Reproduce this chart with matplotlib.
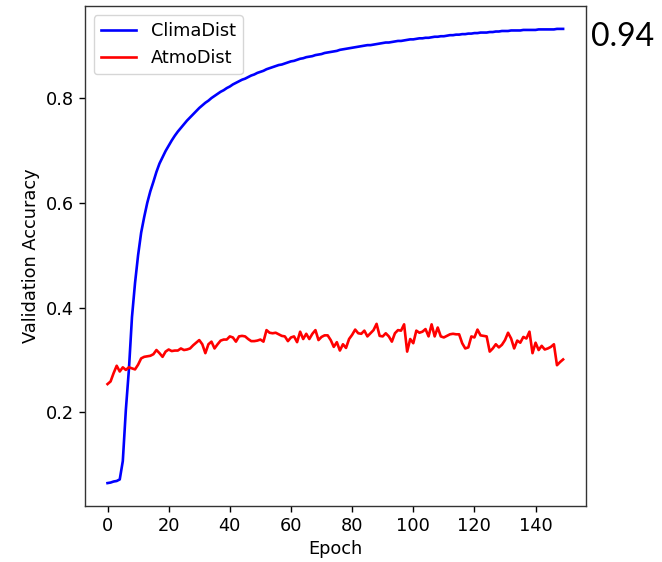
import numpy as np
import matplotlib
matplotlib.use('Agg')
import matplotlib.pyplot as plt

# validation accuracy per epoch
clima_acc = [
    0.065, 0.066, 0.068, 0.069, 0.072, 0.107, 0.205, 0.282, 0.382, 0.447,
    0.500, 0.543, 0.573, 0.600, 0.622, 0.640, 0.659, 0.675, 0.687, 0.699,
    0.709, 0.719, 0.728, 0.736, 0.743, 0.750, 0.757, 0.763, 0.769, 0.775,
    0.781, 0.786, 0.791, 0.795, 0.800, 0.804, 0.808, 0.812, 0.815, 0.819,
    0.822, 0.826, 0.829, 0.832, 0.835, 0.837, 0.840, 0.843, 0.845, 0.848,
    0.850, 0.852, 0.855, 0.857, 0.859, 0.861, 0.863, 0.864, 0.866, 0.868,
    0.870, 0.871, 0.873, 0.875, 0.876, 0.878, 0.879, 0.880, 0.882, 0.883,
    0.884, 0.886, 0.887, 0.888, 0.889, 0.890, 0.892, 0.893, 0.894, 0.895,
    0.896, 0.897, 0.898, 0.899, 0.900, 0.901, 0.901, 0.902, 0.903, 0.904,
    0.905, 0.906, 0.906, 0.907, 0.908, 0.909, 0.909, 0.910, 0.911, 0.912,
    0.912, 0.913, 0.914, 0.914, 0.915, 0.915, 0.916, 0.917, 0.917, 0.918,
    0.918, 0.919, 0.920, 0.920, 0.921, 0.921, 0.922, 0.922, 0.923, 0.923,
    0.924, 0.924, 0.925, 0.925, 0.925, 0.926, 0.926, 0.927, 0.927, 0.928,
    0.928, 0.928, 0.929, 0.929, 0.929, 0.929, 0.930, 0.930, 0.930, 0.930,
    0.930, 0.931, 0.931, 0.931, 0.931, 0.931, 0.931, 0.932, 0.932, 0.932,
]
atmo_acc = [
    0.254, 0.259, 0.275, 0.289, 0.278, 0.286, 0.281, 0.286, 0.284, 0.282,
    0.291, 0.303, 0.306, 0.307, 0.308, 0.311, 0.319, 0.313, 0.306, 0.316,
    0.320, 0.317, 0.318, 0.318, 0.322, 0.319, 0.320, 0.322, 0.328, 0.333,
    0.338, 0.330, 0.313, 0.330, 0.335, 0.322, 0.330, 0.337, 0.339, 0.339,
    0.345, 0.343, 0.335, 0.345, 0.346, 0.345, 0.340, 0.336, 0.336, 0.337,
    0.339, 0.335, 0.357, 0.352, 0.351, 0.352, 0.349, 0.346, 0.345, 0.336,
    0.343, 0.345, 0.334, 0.354, 0.340, 0.350, 0.340, 0.350, 0.357, 0.338,
    0.344, 0.347, 0.347, 0.338, 0.325, 0.334, 0.318, 0.330, 0.323, 0.340,
    0.348, 0.358, 0.351, 0.350, 0.356, 0.345, 0.351, 0.357, 0.369, 0.346,
    0.345, 0.351, 0.345, 0.335, 0.351, 0.357, 0.356, 0.368, 0.316, 0.340,
    0.332, 0.356, 0.352, 0.354, 0.359, 0.345, 0.368, 0.345, 0.362, 0.345,
    0.343, 0.346, 0.349, 0.350, 0.349, 0.349, 0.332, 0.322, 0.324, 0.345,
    0.343, 0.358, 0.347, 0.346, 0.345, 0.316, 0.322, 0.330, 0.324, 0.329,
    0.338, 0.352, 0.341, 0.322, 0.337, 0.333, 0.344, 0.341, 0.354, 0.313,
    0.333, 0.319, 0.327, 0.320, 0.322, 0.325, 0.330, 0.290, 0.296, 0.301,
]
epochs = np.arange(len(clima_acc))
series_names = ['ClimaDist', 'AtmoDist']
final_label = '0.94'

plt.rcParams['font.size'] = 12.8

fig = plt.figure(figsize=(6.62, 5.62), dpi=100)
ax = fig.add_axes([0.128, 0.100, 0.757, 0.889])

ax.plot(epochs, clima_acc, color='blue', linewidth=1.9, label=series_names[0])
ax.plot(epochs, atmo_acc, color='red', linewidth=1.9, label=series_names[1])

ax.set_xticks(np.arange(0, 141, 20))
ax.set_yticks([0.2, 0.4, 0.6, 0.8])
ax.set_xlabel('Epoch')
ax.set_ylabel('Validation Accuracy')
ax.tick_params(length=4.5, width=1.0)
for sp in ax.spines.values():
    sp.set_linewidth(1.0)
    sp.set_color('#333333')
ax.legend(loc='upper left')

fig.text(0.893, 0.935, final_label, fontsize=23, family='Lato', va='center', ha='left')

plt.savefig('out.png', dpi=100)
plt.close()
